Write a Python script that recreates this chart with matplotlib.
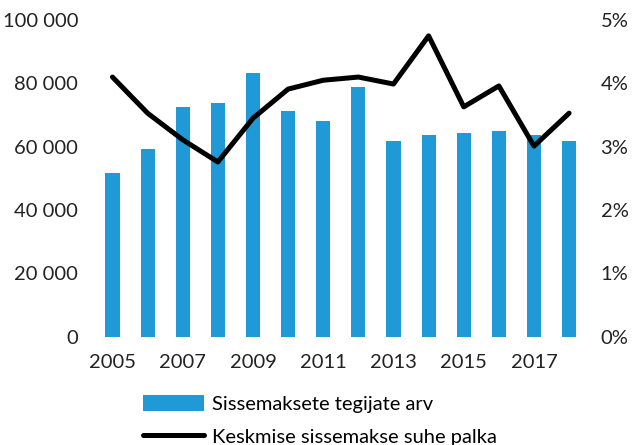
import matplotlib
matplotlib.use("Agg")
import matplotlib.pyplot as plt
import numpy as np

years = list(range(2005, 2019))
payers = [51700, 59300, 72500, 73800, 83300, 71300, 68100, 78900,
          61800, 63700, 64400, 65000, 63700, 61800]
ratio = [4.10, 3.53, 3.11, 2.76, 3.45, 3.91, 4.05, 4.10,
         3.99, 4.75, 3.63, 3.96, 3.01, 3.53]

bar_label = 'Sissemaksete tegijate arv'
line_label = 'Keskmise sissemakse suhe palka'

plt.rcParams['font.family'] = ['Lato', 'DejaVu Sans']

fig = plt.figure(figsize=(6.37, 4.45), dpi=100)
ax = fig.add_axes([0.149, 0.243, 0.772, 0.712])
ax2 = ax.twinx()

x = np.arange(len(years))
bars = ax.bar(x, payers, width=0.4, color='#1f9ad6', label=bar_label)
line, = ax2.plot(x, ratio, color='black', linewidth=3.6, solid_capstyle='round',
                 label=line_label)

ax.set_xlim(-0.5, len(years) - 0.5)
ax.set_ylim(0, 100000)
ax.set_yticks(range(0, 100001, 20000))
ax.set_yticklabels([f"{v:,}".replace(',', ' ') for v in range(0, 100001, 20000)])
ax2.set_ylim(0, 5)
ax2.set_yticks(range(0, 6))
ax2.set_yticklabels([f"{v}%" for v in range(0, 6)])

ax.set_xticks(x[::2])
ax.set_xticklabels([str(y) for y in years[::2]])

for a in (ax, ax2):
    for s in a.spines.values():
        s.set_visible(False)
    a.tick_params(length=0, labelsize=14.5, colors='#222222')
ax.tick_params(axis='y', pad=12)
ax.tick_params(axis='x', pad=12)
ax2.tick_params(axis='y', pad=10)

fig.legend(handles=[bars, line], loc='upper left', bbox_to_anchor=(0.212, 0.13),
           frameon=False, fontsize=14.5, handlelength=3.0, handleheight=0.8,
           labelspacing=0.75, borderaxespad=0, handletextpad=0.4)

fig.savefig('out.png', dpi=100)
